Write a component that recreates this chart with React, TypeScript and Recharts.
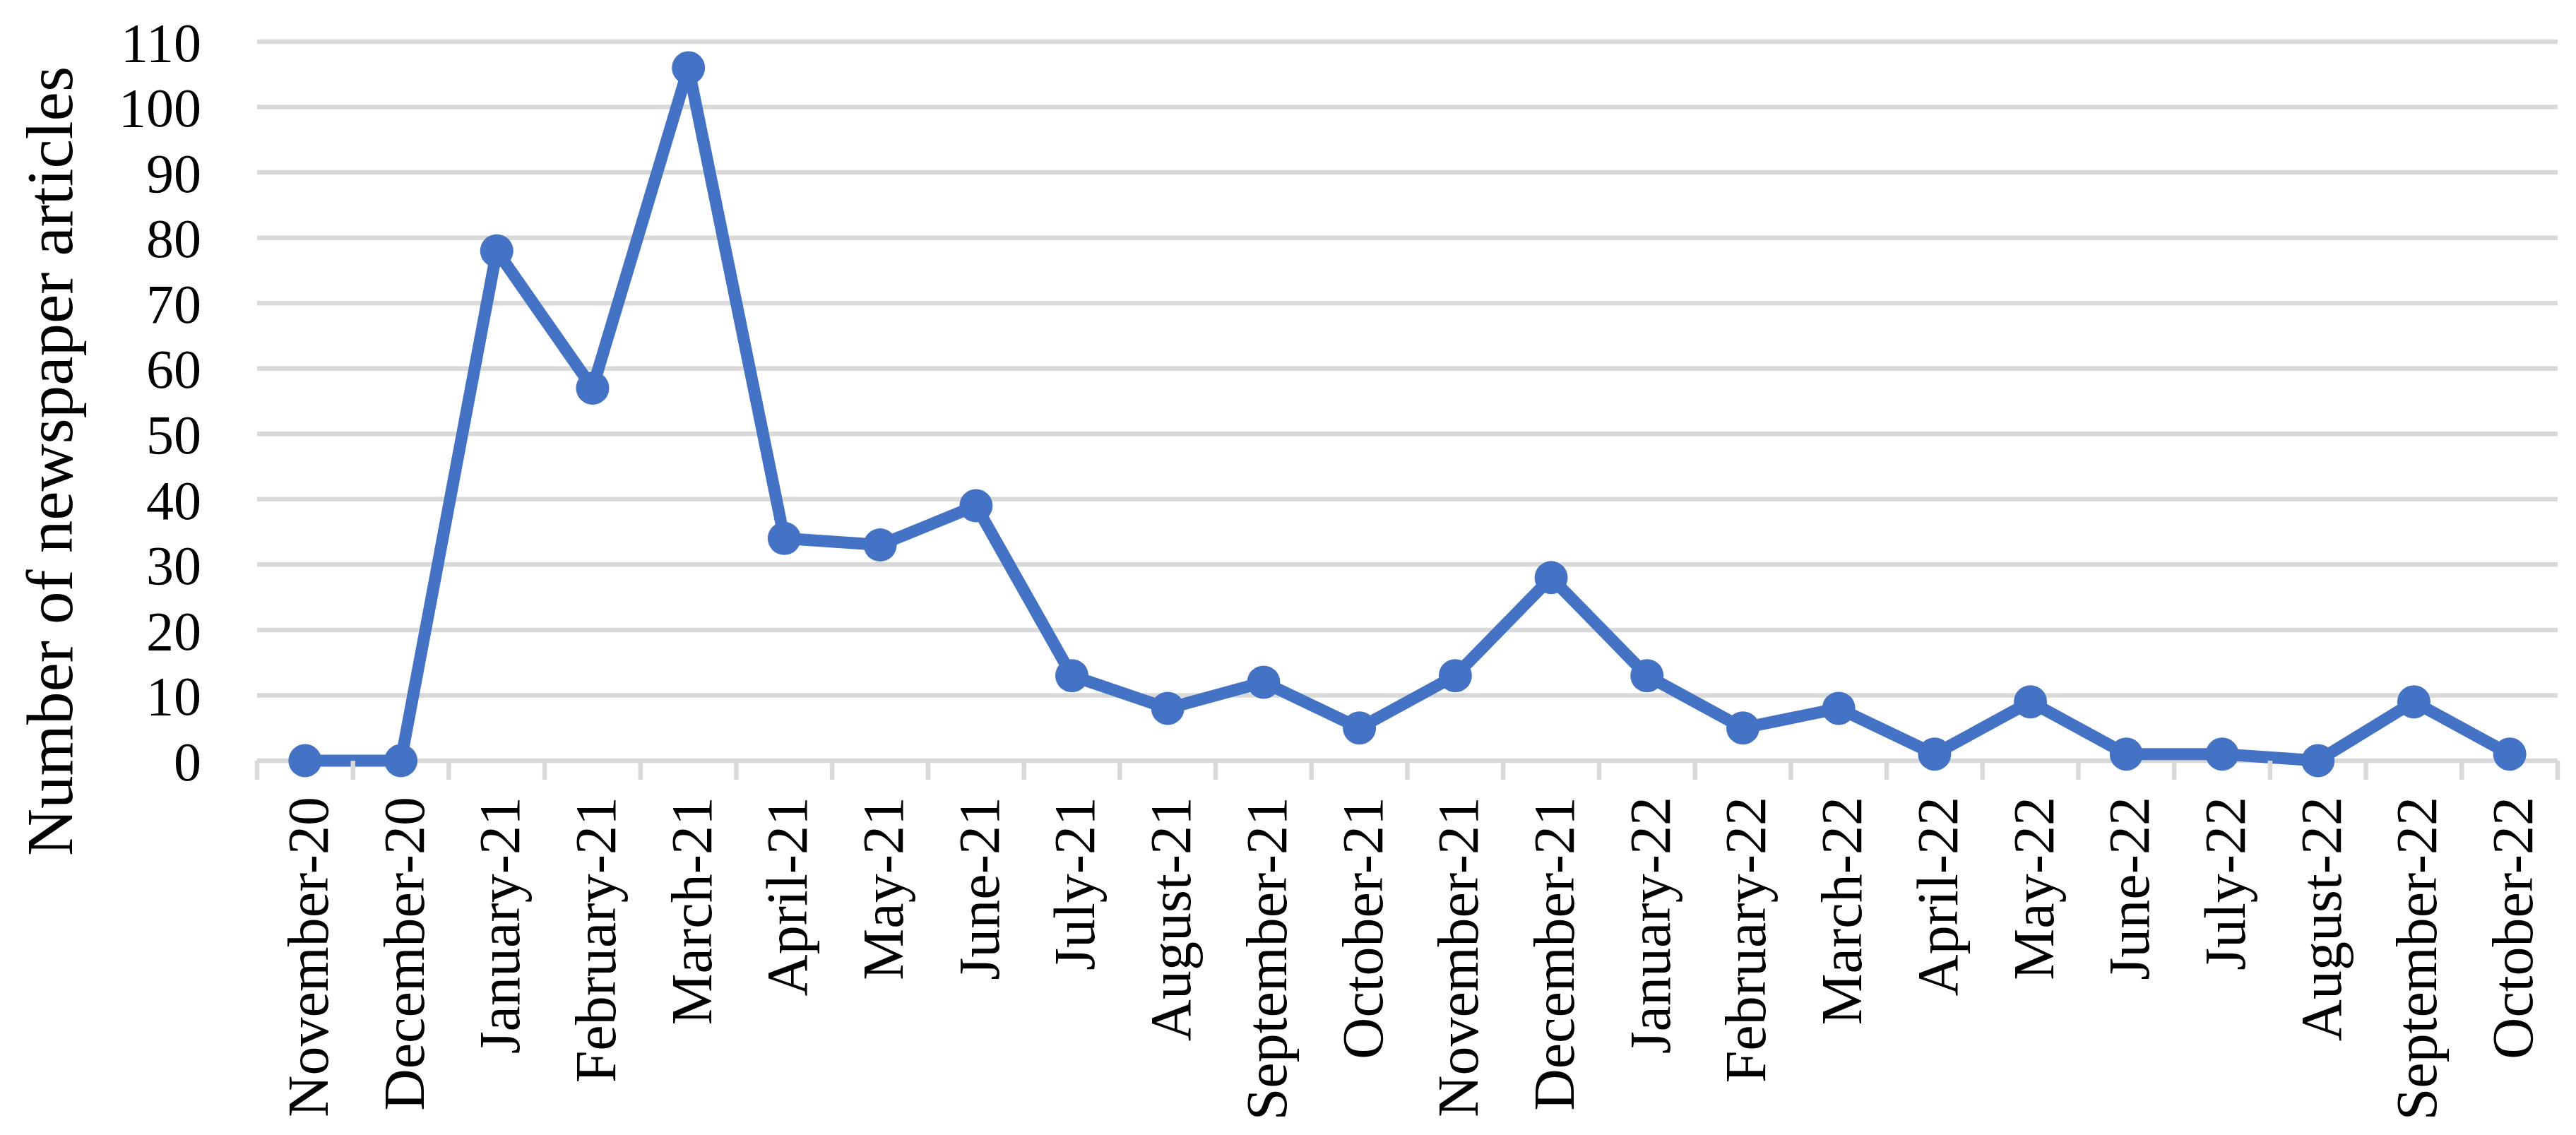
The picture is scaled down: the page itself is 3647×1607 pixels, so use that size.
import React from "react";
import { LineChart, Line, XAxis, YAxis, CartesianGrid } from "recharts";

const months = [
  "November-20", "December-20", "January-21", "February-21", "March-21", "April-21",
  "May-21", "June-21", "July-21", "August-21", "September-21", "October-21",
  "November-21", "December-21", "January-22", "February-22", "March-22", "April-22",
  "May-22", "June-22", "July-22", "August-22", "September-22", "October-22",
];
const articles = [0, 0, 78, 57, 106, 34, 33, 39, 13, 8, 12, 5, 13, 28, 13, 5, 8, 1, 9, 1, 1, 0, 9, 1];
const yTicks = [0, 10, 20, 30, 40, 50, 60, 70, 80, 90, 100, 110];

// each month sits in the middle of its slot
const data = months.map((month, i) => ({ month, pos: i + 0.5, articles: articles[i] }));
const centres = data.map((d) => d.pos);
// slot boundaries, where the tick marks sit
const edges = [...months.map((_, i) => i), months.length];

const FONT = "'Liberation Serif', 'Times New Roman', serif";
const GRID = "#d9d9d9";
const BLUE = "#4472c4";

const MonthTick = (props: any) => {
  const { x, y, payload } = props;
  return (
    <text
      x={x}
      y={y}
      dy="0.39em"
      transform={`rotate(-90, ${x}, ${y})`}
      textAnchor="end"
      fontFamily={FONT}
      fontSize={82}
      fill="#000"
    >
      {months[Math.floor(payload.value)]}
    </text>
  );
};

const NoLabel = () => <g />;

const YTitle = (props: any) => {
  const { viewBox } = props;
  const x = 102;
  const y = viewBox.y + viewBox.height / 2 + 85;
  return (
    <text
      x={x}
      y={y}
      transform={`rotate(-90, ${x}, ${y})`}
      textAnchor="middle"
      fontFamily={FONT}
      fontSize={93}
      fill="#000"
    >
      Number of newspaper articles
    </text>
  );
};

export default function App() {
  return (
    <div style={{ width: 3647, height: 1607, background: "#fff" }}>
      <style>{"body{margin:0}"}</style>
      <LineChart width={3647} height={1607} data={data} margin={{ top: 59, right: 26, bottom: 0, left: 0 }}>
        <CartesianGrid vertical={false} stroke={GRID} strokeWidth={6.5} xAxisId="a" />
        <XAxis
          xAxisId="a"
          dataKey="pos"
          type="number"
          domain={[0, months.length]}
          ticks={edges}
          interval={0}
          height={24}
          tickSize={27}
          tick={<NoLabel />}
          tickLine={{ stroke: GRID, strokeWidth: 6.5 }}
          axisLine={false}
        />
        <XAxis
          xAxisId="b"
          dataKey="pos"
          type="number"
          domain={[0, months.length]}
          ticks={centres}
          interval={0}
          height={506}
          tickSize={0}
          tickMargin={27}
          axisLine={false}
          tickLine={false}
          tick={<MonthTick />}
        />
        <YAxis
          width={364}
          domain={[0, 110]}
          ticks={yTicks}
          interval={0}
          tickSize={0}
          tickMargin={79}
          axisLine={false}
          tickLine={false}
          tick={{ fontFamily: FONT, fontSize: 78, fill: "#000" }}
          label={<YTitle />}
        />
        <Line
          xAxisId="a"
          dataKey="articles"
          stroke={BLUE}
          strokeWidth={17}
          strokeLinejoin="round"
          dot={{ r: 23.5, fill: BLUE, stroke: BLUE, strokeWidth: 0 }}
          activeDot={false}
          isAnimationActive={false}
        />
      </LineChart>
    </div>
  );
}
